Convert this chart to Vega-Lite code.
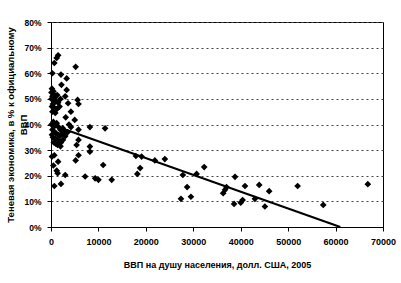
{
  "$schema": "https://vega.github.io/schema/vega-lite/v6.json",
  "width": 332,
  "height": 205,
  "autosize": {"type": "none"},
  "padding": {"left": 51, "top": 22, "right": 18, "bottom": 56},
  "background": "white",
  "config": {
    "view": {"stroke": "black", "strokeWidth": 1},
    "font": "Liberation Sans",
    "axis": {"labelFont": "Liberation Sans", "titleFont": "Liberation Sans", "labelColor": "black", "titleColor": "black", "domainColor": "black", "tickColor": "black", "labelFontWeight": "bold", "titleFontWeight": "bold"}
  },
  "datasets": {
    "pts": [
      {"gdp": 1500, "pct": 67}, {"gdp": 1200, "pct": 66}, {"gdp": 700, "pct": 64}, {"gdp": 5200, "pct": 62.5},
      {"gdp": 300, "pct": 60}, {"gdp": 2100, "pct": 59.5}, {"gdp": 3300, "pct": 58}, {"gdp": 2200, "pct": 55.5},
      {"gdp": 3300, "pct": 53.5}, {"gdp": 3000, "pct": 51}, {"gdp": 5600, "pct": 49.6}, {"gdp": 5800, "pct": 48},
      {"gdp": 3600, "pct": 48.3}, {"gdp": 4200, "pct": 45}, {"gdp": 3100, "pct": 42.8}, {"gdp": 5000, "pct": 41.8},
      {"gdp": 200, "pct": 54}, {"gdp": 500, "pct": 52}, {"gdp": 300, "pct": 51}, {"gdp": 800, "pct": 50.5},
      {"gdp": 100, "pct": 50}, {"gdp": 600, "pct": 49.5}, {"gdp": 1000, "pct": 49}, {"gdp": 400, "pct": 48},
      {"gdp": 1500, "pct": 48.5}, {"gdp": 200, "pct": 47}, {"gdp": 700, "pct": 46.5}, {"gdp": 1200, "pct": 46},
      {"gdp": 300, "pct": 45}, {"gdp": 900, "pct": 44.5}, {"gdp": 1800, "pct": 47}, {"gdp": 500, "pct": 53},
      {"gdp": 100, "pct": 52.5}, {"gdp": 1300, "pct": 51.5}, {"gdp": 2000, "pct": 50},
      {"gdp": 100, "pct": 40}, {"gdp": 500, "pct": 41}, {"gdp": 800, "pct": 39.5}, {"gdp": 1200, "pct": 40.5},
      {"gdp": 1600, "pct": 39}, {"gdp": 2000, "pct": 38}, {"gdp": 2500, "pct": 38.5}, {"gdp": 300, "pct": 38},
      {"gdp": 700, "pct": 37}, {"gdp": 1100, "pct": 36.5}, {"gdp": 1500, "pct": 36}, {"gdp": 1900, "pct": 35.5},
      {"gdp": 2300, "pct": 36.5}, {"gdp": 2800, "pct": 37}, {"gdp": 400, "pct": 35}, {"gdp": 900, "pct": 34.5},
      {"gdp": 1300, "pct": 34}, {"gdp": 1700, "pct": 33.5}, {"gdp": 2100, "pct": 33}, {"gdp": 600, "pct": 33},
      {"gdp": 1000, "pct": 32.5}, {"gdp": 1400, "pct": 32}, {"gdp": 2500, "pct": 34}, {"gdp": 3000, "pct": 35.5},
      {"gdp": 3500, "pct": 37}, {"gdp": 2000, "pct": 31.5}, {"gdp": 200, "pct": 36}, {"gdp": 3800, "pct": 40},
      {"gdp": 4200, "pct": 39},
      {"gdp": 5800, "pct": 38}, {"gdp": 8200, "pct": 39}, {"gdp": 11400, "pct": 38.5}, {"gdp": 5800, "pct": 34},
      {"gdp": 5400, "pct": 32}, {"gdp": 8200, "pct": 31.4}, {"gdp": 8200, "pct": 29.4}, {"gdp": 5800, "pct": 28},
      {"gdp": 5200, "pct": 26}, {"gdp": 700, "pct": 28}, {"gdp": 1500, "pct": 25.5}, {"gdp": 1200, "pct": 22},
      {"gdp": 1400, "pct": 21}, {"gdp": 3000, "pct": 20.3}, {"gdp": 7200, "pct": 19.7}, {"gdp": 9300, "pct": 19},
      {"gdp": 10000, "pct": 18.4}, {"gdp": 12800, "pct": 18.4}, {"gdp": 11000, "pct": 24.2}, {"gdp": 700, "pct": 16},
      {"gdp": 2100, "pct": 16.8}, {"gdp": 200, "pct": 27.5}, {"gdp": 500, "pct": 24},
      {"gdp": 17900, "pct": 27.7}, {"gdp": 19100, "pct": 27.5}, {"gdp": 21900, "pct": 26}, {"gdp": 24000, "pct": 26.5},
      {"gdp": 18800, "pct": 23}, {"gdp": 18200, "pct": 20.7}, {"gdp": 27800, "pct": 20.3}, {"gdp": 32300, "pct": 23.4},
      {"gdp": 30700, "pct": 20.7}, {"gdp": 28700, "pct": 15.6}, {"gdp": 29500, "pct": 11.8}, {"gdp": 27400, "pct": 11},
      {"gdp": 38800, "pct": 19.6}, {"gdp": 36300, "pct": 13.2}, {"gdp": 36700, "pct": 14.5}, {"gdp": 37000, "pct": 15.6},
      {"gdp": 38600, "pct": 9}, {"gdp": 40000, "pct": 9.5}, {"gdp": 40400, "pct": 10.5}, {"gdp": 40900, "pct": 16},
      {"gdp": 43000, "pct": 11}, {"gdp": 43900, "pct": 16.4}, {"gdp": 45100, "pct": 8}, {"gdp": 46000, "pct": 14},
      {"gdp": 52000, "pct": 16}, {"gdp": 57400, "pct": 8.6}, {"gdp": 66800, "pct": 16.7}
    ],
    "trend": [{"gdp": 0, "pct": 40}, {"gdp": 61000, "pct": 0}]
  },
  "encoding": {
    "x": {"field": "gdp", "type": "quantitative", "scale": {"domain": [0, 70000], "nice": false},
      "axis": {"values": [0, 10000, 20000, 30000, 40000, 50000, 60000, 70000], "format": "d", "grid": false,
        "labelFontSize": 9, "tickSize": 4, "labelPadding": 6, "labelFlush": false, "labelOverlap": false,
        "title": "ВВП на душу населения, долл. США, 2005", "titleFontSize": 9, "titlePadding": 14}},
    "y": {"field": "pct", "type": "quantitative", "scale": {"domain": [0, 80], "nice": false},
      "axis": {"values": [0, 10, 20, 30, 40, 50, 60, 70, 80], "labelExpr": "datum.value + '%'",
        "grid": true, "gridDash": [2, 3], "gridColor": "#444", "gridWidth": 1, "labelOverlap": false,
        "labelFontSize": 8.5, "tickSize": 4, "labelPadding": 6,
        "title": ["Теневая экономика, в % к официальному", "ВВП"], "titleFontSize": 9.5, "titlePadding": -5, "titleLineHeight": 13}}
  },
  "layer": [
    {
      "data": {"name": "trend"},
      "mark": {"type": "line", "color": "black", "strokeWidth": 2}
    },
    {
      "data": {"name": "pts"},
      "mark": {"type": "point", "shape": "diamond", "filled": true, "color": "black", "size": 45, "opacity": 1}
    }
  ]
}
